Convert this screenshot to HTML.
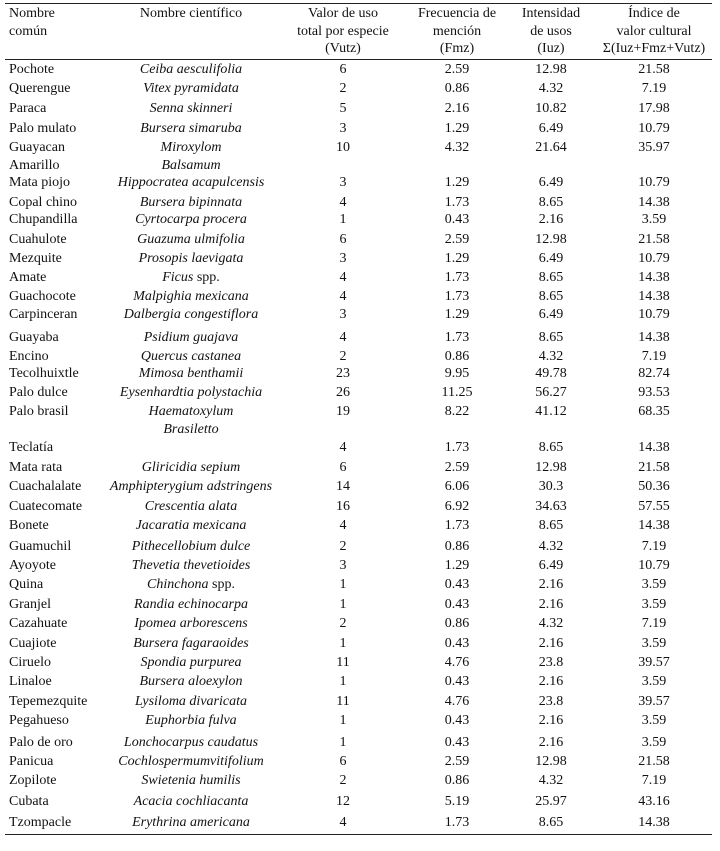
<!DOCTYPE html>
<html><head><meta charset="utf-8"><style>
body{margin:0;width:720px;height:851px;background:#fff;position:relative;font-family:"Liberation Serif",serif;font-size:14px;color:#111;overflow:hidden}
.l{position:absolute;left:5px;width:707px;height:1px;background:#222}
.r{position:absolute;left:0;width:720px;height:17px;line-height:17px}
.r span,.h span{position:absolute;white-space:nowrap}
.a{left:9px}
.b{left:91px;width:200px;text-align:center;font-style:italic}
.c{left:293px;width:100px;text-align:center}
.d{left:407px;width:100px;text-align:center}
.e{left:501px;width:100px;text-align:center}
.f{left:594px;width:120px;text-align:center}
.h{position:absolute;top:5px;left:0;width:720px;line-height:17.5px}
</style></head><body>
<div class="l" style="top:3px"></div>
<div class="l" style="top:59px"></div>
<div class="l" style="top:834px"></div>
<div class="h">
<span class="a">Nombre<br>común</span>
<span class="b" style="font-style:normal">Nombre científico</span>
<span class="c">Valor de uso<br>total por especie<br>(Vutz)</span>
<span class="d">Frecuencia de<br>mención<br>(Fmz)</span>
<span class="e">Intensidad<br>de usos<br>(Iuz)</span>
<span class="f">Índice de<br>valor cultural<br>Σ(Iuz+Fmz+Vutz)</span>
</div>
<div id="rows"></div>
<script>
var d=[[68,"Pochote","Ceiba aesculifolia","6","2.59","12.98","21.58"],
[87,"Querengue","Vitex pyramidata","2","0.86","4.32","7.19"],
[107,"Paraca","Senna skinneri","5","2.16","10.82","17.98"],
[127,"Palo mulato","Bursera simaruba","3","1.29","6.49","10.79"],
[146,"Guayacan","Miroxylom","10","4.32","21.64","35.97"],
[164,"Amarillo","Balsamum","","","",""],
[181,"Mata piojo","Hippocratea acapulcensis","3","1.29","6.49","10.79"],
[201,"Copal chino","Bursera bipinnata","4","1.73","8.65","14.38"],
[218,"Chupandilla","Cyrtocarpa procera","1","0.43","2.16","3.59"],
[238,"Cuahulote","Guazuma ulmifolia","6","2.59","12.98","21.58"],
[257,"Mezquite","Prosopis laevigata","3","1.29","6.49","10.79"],
[276,"Amate","Ficus <i style='font-style:normal'>spp.</i>","4","1.73","8.65","14.38"],
[295,"Guachocote","Malpighia mexicana","4","1.73","8.65","14.38"],
[313,"Carpinceran","Dalbergia congestiflora","3","1.29","6.49","10.79"],
[336,"Guayaba","Psidium guajava","4","1.73","8.65","14.38"],
[355,"Encino","Quercus castanea","2","0.86","4.32","7.19"],
[372,"Tecolhuixtle","Mimosa benthamii","23","9.95","49.78","82.74"],
[391,"Palo dulce","Eysenhardtia polystachia","26","11.25","56.27","93.53"],
[410,"Palo brasil","Haematoxylum","19","8.22","41.12","68.35"],
[428,"","Brasiletto","","","",""],
[446,"Teclatía","","4","1.73","8.65","14.38"],
[466,"Mata rata","Gliricidia sepium","6","2.59","12.98","21.58"],
[485,"Cuachalalate","Amphipterygium adstringens","14","6.06","30.3","50.36"],
[505,"Cuatecomate","Crescentia alata","16","6.92","34.63","57.55"],
[524,"Bonete","Jacaratia mexicana","4","1.73","8.65","14.38"],
[545,"Guamuchil","Pithecellobium dulce","2","0.86","4.32","7.19"],
[564,"Ayoyote","Thevetia thevetioides","3","1.29","6.49","10.79"],
[583,"Quina","Chinchona <i style='font-style:normal'>spp.</i>","1","0.43","2.16","3.59"],
[603,"Granjel","Randia echinocarpa","1","0.43","2.16","3.59"],
[622,"Cazahuate","Ipomea arborescens","2","0.86","4.32","7.19"],
[642,"Cuajiote","Bursera fagaraoides","1","0.43","2.16","3.59"],
[661,"Ciruelo","Spondia purpurea","11","4.76","23.8","39.57"],
[680,"Linaloe","Bursera aloexylon","1","0.43","2.16","3.59"],
[700,"Tepemezquite","Lysiloma divaricata","11","4.76","23.8","39.57"],
[719,"Pegahueso","Euphorbia fulva","1","0.43","2.16","3.59"],
[741,"Palo de oro","Lonchocarpus caudatus","1","0.43","2.16","3.59"],
[760,"Panicua","Cochlospermumvitifolium","6","2.59","12.98","21.58"],
[779,"Zopilote","Swietenia humilis","2","0.86","4.32","7.19"],
[800,"Cubata","Acacia cochliacanta","12","5.19","25.97","43.16"],
[821,"Tzompacle","Erythrina americana","4","1.73","8.65","14.38"]];
var h="";d.forEach(function(r){h+='<div class="r" style="top:'+(r[0]-7)+'px"><span class="a">'+r[1]+'</span><span class="b">'+r[2]+'</span><span class="c">'+r[3]+'</span><span class="d">'+r[4]+'</span><span class="e">'+r[5]+'</span><span class="f">'+r[6]+'</span></div>';});
document.getElementById("rows").innerHTML=h;
</script>
</body></html>
